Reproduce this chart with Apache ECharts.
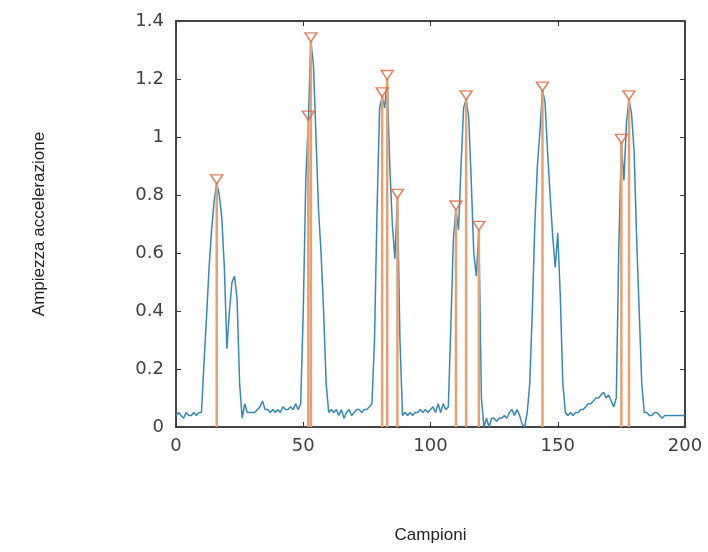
<!DOCTYPE html>
<html>
<head>
<meta charset="utf-8">
<script src="https://cdn.jsdelivr.net/npm/echarts@6/dist/echarts.min.js"></script>
<style>
html,body{margin:0;padding:0;background:#fff;}
#main{width:708px;height:552px;}
</style>
</head>
<body>
<div id="main"></div>
<script>
// segnale (campioni 0..200)
var segnale=[
	0.04,0.05,0.04,0.03,0.05,0.04,0.04,0.05,0.04,0.05,
	0.05,0.22,0.38,0.55,0.68,0.78,0.84,0.80,0.72,0.55,
	0.27,0.40,0.50,0.52,0.44,0.15,0.03,0.08,0.05,0.05,
	0.05,0.05,0.06,0.07,0.09,0.06,0.06,0.05,0.06,0.05,
	0.06,0.05,0.07,0.06,0.06,0.07,0.06,0.08,0.06,0.08,
	0.40,0.85,1.06,1.33,1.25,1.00,0.75,0.60,0.40,0.15,
	0.05,0.06,0.05,0.06,0.04,0.06,0.03,0.05,0.06,0.04,
	0.05,0.06,0.06,0.05,0.06,0.06,0.07,0.08,0.30,0.75,
	1.10,1.14,1.10,1.20,0.90,0.70,0.58,0.79,0.30,0.04,
	0.05,0.04,0.05,0.04,0.05,0.05,0.06,0.05,0.06,0.05,
	0.06,0.07,0.05,0.08,0.05,0.08,0.06,0.07,0.35,0.65,
	0.75,0.68,0.90,1.10,1.13,1.07,0.85,0.60,0.52,0.68,
	0.10,0.00,0.03,0.00,0.03,0.03,0.02,0.03,0.03,0.04,
	0.03,0.05,0.06,0.04,0.06,0.04,0.01,0.00,0.05,0.15,
	0.40,0.70,0.90,1.02,1.16,1.12,0.95,0.80,0.66,0.55,
	0.67,0.45,0.15,0.05,0.04,0.05,0.04,0.05,0.05,0.06,
	0.06,0.07,0.08,0.08,0.09,0.10,0.10,0.11,0.12,0.10,
	0.11,0.09,0.07,0.10,0.62,0.98,0.85,1.05,1.13,1.08,
	0.95,0.65,0.40,0.15,0.05,0.05,0.04,0.04,0.05,0.05,
	0.04,0.03,0.04,0.04,0.04,0.04,0.04,0.04,0.04,0.04,
	0.04
];
// picchi trovati
var picchiX=[16,52,53,81,83,87,110,114,119,144,175,178];
var picchiY=[0.84,1.06,1.33,1.14,1.20,0.79,0.75,1.13,0.68,1.16,0.98,1.13];

var lineData=[];
for(var i=0;i<segnale.length;i++){
	lineData.push([i,segnale[i]]);
}
var picchiData=[];
for(var j=0;j<picchiX.length;j++){
	picchiData.push([picchiX[j],picchiY[j]]);
}

var chart=echarts.init(document.getElementById('main'));
var axisCol='#3a3a3a';
var tickStyle={show:true,inside:true,length:5,lineStyle:{color:axisCol,width:1}};
var option={
	backgroundColor:'#ffffff',
	animation:false,
	grid:{left:176,right:23,top:21,bottom:125,show:true,borderColor:axisCol,borderWidth:1.5,backgroundColor:'#fff'},
	xAxis:[
		{
			show:true,type:'value',min:0,max:200,interval:50,position:'bottom',
			name:'Campioni',nameLocation:'middle',nameGap:100,
			nameTextStyle:{color:'#222',fontSize:17,fontFamily:'Liberation Sans'},
			axisLine:{show:true,onZero:false,lineStyle:{color:axisCol,width:1.5}},
			axisTick:tickStyle,
			axisLabel:{color:'#404040',fontSize:18,margin:10,fontFamily:'DejaVu Sans'},
			splitLine:{show:false}
		},
		{
			show:true,type:'value',min:0,max:200,interval:50,position:'top',
			axisLine:{show:true,onZero:false,lineStyle:{color:axisCol,width:1.5}},
			axisTick:tickStyle,
			axisLabel:{show:false},
			splitLine:{show:false}
		}
	],
	yAxis:[
		{
			show:true,type:'value',min:0,max:1.4,interval:0.2,position:'left',
			name:'Ampiezza accelerazione',nameLocation:'middle',nameGap:128,
			nameTextStyle:{color:'#222',fontSize:17,fontFamily:'Liberation Sans'},
			axisLine:{show:true,onZero:false,lineStyle:{color:axisCol,width:1.5}},
			axisTick:tickStyle,
			axisLabel:{color:'#404040',fontSize:18,margin:12,fontFamily:'DejaVu Sans',
				formatter:function(v){return String(+v.toFixed(1));}},
			splitLine:{show:false}
		},
		{
			show:true,type:'value',min:0,max:1.4,interval:0.2,position:'right',
			axisLine:{show:true,onZero:false,lineStyle:{color:axisCol,width:1.5}},
			axisTick:tickStyle,
			axisLabel:{show:false},
			splitLine:{show:false}
		}
	],
	series:[
		{
			name:'segnale',
			type:'line',
			data:lineData,
			showSymbol:false,
			lineStyle:{color:'#3789b5',width:1.5},
			z:2
		},
		{
			name:'stem',
			type:'bar',
			data:picchiData,
			barWidth:2.5,
			itemStyle:{color:'#e8a070'},
			z:3
		},
		{
			name:'picchi',
			type:'scatter',
			data:picchiData,
			symbol:'triangle',
			symbolRotate:180,
			symbolSize:[12,9],
			symbolOffset:[0,-4],
			itemStyle:{color:'rgba(0,0,0,0)',borderColor:'#d9643a',borderWidth:1.5},
			z:4
		},
		{
			// serie vuota per gli assi superiore e destro
			name:'box',
			type:'line',
			xAxisIndex:1,
			yAxisIndex:1,
			data:[],
			showSymbol:false
		}
	]
};
chart.setOption(option);
</script>
</body>
</html>
